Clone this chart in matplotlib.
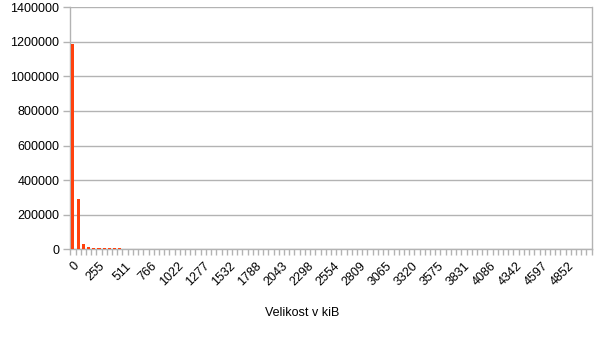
import matplotlib
matplotlib.use("Agg")
import matplotlib.pyplot as plt
import numpy as np

plt.rcParams['font.family'] = ['Liberation Sans', 'DejaVu Sans']

# Histogram: 100 bins of ~51.08 kiB each
n_bins = 100
bin_labels = ["0", "255", "511", "766", "1022", "1277", "1532", "1788", "2043", "2298",
              "2554", "2809", "3065", "3320", "3575", "3831", "4086", "4342", "4597", "4852"]
counts = [1190000, 290000, 28000, 12000, 7000, 6500, 6000, 5500, 4500, 3000,
          1500, 1000, 800, 600, 500, 400, 350, 300, 250, 200,
          180, 160, 150, 130, 120, 110, 100, 90, 80, 70,
          60, 60, 50, 50, 40, 40, 30, 30, 30, 20,
          20, 20, 20, 10, 10, 10, 10, 10, 10, 10,
          10, 10, 5, 5, 5, 5, 5, 5, 5, 5,
          5, 5, 5, 5, 5, 5, 5, 5, 5, 5,
          2, 2, 2, 2, 2, 2, 2, 2, 2, 2,
          2, 2, 2, 2, 2, 2, 2, 2, 2, 2,
          1, 1, 1, 1, 1, 1, 1, 1, 1, 1]
y_ticks = [0, 200000, 400000, 600000, 800000, 1000000, 1200000, 1400000]
x_label = "Velikost v kiB"

fig = plt.figure(figsize=(6.05, 3.4), dpi=100)
ax = fig.add_axes([0.1162, 0.2676, 0.978 - 0.1162, 0.978 - 0.2676])

grid_c = '#b3b3b3'
x = np.arange(len(counts))
ax.bar(x, counts, width=0.6, color='#ff420e', zorder=3)

ax.set_xlim(-0.5, n_bins - 0.5)
ax.set_ylim(0, 1400000)
ax.set_yticks(y_ticks)
ax.set_yticklabels([str(v) for v in y_ticks], fontsize=9)
ax.yaxis.grid(True, color=grid_c, linewidth=1, zorder=0)
ax.tick_params(axis='y', length=5, color=grid_c, width=1, pad=3)

ax.set_xticks(np.arange(-0.5, n_bins, 1.0), minor=True)
ax.set_xticks(np.arange(0, n_bins, 5)[:len(bin_labels)])
ax.set_xticklabels(bin_labels, fontsize=9, rotation=45, ha='right', va='top',
                   rotation_mode='anchor')
ax.tick_params(axis='x', which='major', length=0, pad=8)
ax.tick_params(axis='x', which='minor', length=4, color=grid_c, width=1)

for s in ['left', 'bottom', 'right', 'top']:
    ax.spines[s].set_color(grid_c)
    ax.spines[s].set_linewidth(1)
ax.spines['top'].set_visible(False)

fig.text(0.5, 1 - 313 / 340, x_label, ha='center', va='center', fontsize=9)

fig.savefig('out.png', dpi=100)
